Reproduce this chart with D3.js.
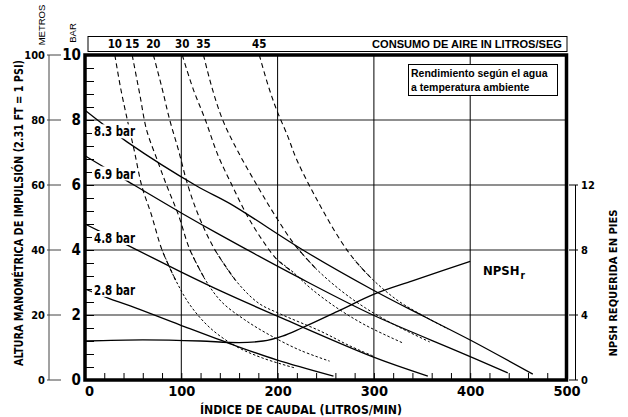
<!DOCTYPE html>
<html>
<head>
<meta charset="utf-8">
<script src="https://cdn.jsdelivr.net/npm/d3@7"></script>
<style>
  body { margin: 0; background: #fff; }
  text { font-family: "Liberation Sans Narrow", "Arial Narrow", "DejaVu Sans Condensed", sans-serif; font-weight: bold; fill: #000; }
  .wide { font-family: "Liberation Sans", Arial, sans-serif; }
</style>
</head>
<body>
<svg width="628" height="417"></svg>
<script>
// axis ticks
var flowTicks = [0, 100, 200, 300, 400, 500];
var barTicks = [0, 2, 4, 6, 8, 10];
var metroTicks = [0, 20, 40, 60, 80, 100];
var npshTicks = [0, 4, 8, 12];

// pressure curves: [flow L/min, head bar]
var pressureNames = ["8.3 bar", "6.9 bar", "4.8 bar", "2.8 bar"];
var p83 = [[0, 8.3], [44, 7.32], [116, 5.97], [151, 5.42], [228, 3.97], [299, 2.77], [351, 1.97], [400, 1.23], [465, 0.18]];
var p69 = [[0, 6.9], [44, 6.12], [100, 5.14], [137, 4.52], [223, 3.14], [299, 2.0], [389, 0.86], [439, 0.22]];
var p48 = [[0, 4.8], [44, 4.15], [100, 3.32], [143, 2.71], [204, 1.91], [299, 0.71], [356, 0.12]];
var p28 = [[0, 2.8], [24, 2.52], [47, 2.28], [99, 1.69], [154, 1.08], [199, 0.62], [258, 0.12]];

// air consumption curves (L/s): [flow L/min, head bar]
var airNames = ["10", "15", "20", "30", "35", "45"];
var a10 = [[31, 10], [37, 8.98], [44, 8.0], [51, 7.08], [59, 5.97], [69, 5.08], [80, 4.0], [94, 3.08], [109, 2.31], [130, 1.6], [156, 1.05], [184, 0.68], [218, 0.37]];
var a15 = [[49, 10], [57, 8.77], [64, 7.69], [75, 6.77], [85, 5.97], [97, 5.08], [109, 4.0], [125, 3.08], [142, 2.4], [166, 1.85], [192, 1.38], [223, 0.92], [254, 0.58]];
var a20 = [[71, 10], [80, 8.98], [88, 8.0], [97, 7.08], [107, 5.97], [119, 4.98], [135, 4.0], [156, 3.08], [180, 2.37], [203, 2.03], [244, 1.51], [275, 1.05], [299, 0.74]];
var a30 = [[101, 10], [112, 8.98], [125, 8.0], [138, 6.92], [153, 5.97], [168, 5.08], [184, 4.31], [200, 3.69], [216, 3.32], [234, 2.83], [260, 2.25], [291, 1.69], [330, 1.14]];
var a35 = [[123, 10], [132, 8.98], [143, 8.0], [159, 7.02], [179, 5.97], [197, 5.08], [218, 4.15], [239, 3.45], [265, 2.77], [291, 2.22], [322, 1.69], [358, 1.17]];
var a45 = [[181, 10], [190, 9.08], [199, 8.31], [210, 7.54], [220, 6.77], [241, 5.54], [265, 4.31], [280, 3.69], [296, 3.17], [312, 2.74], [327, 2.4], [348, 2.03], [377, 1.57]];

// NPSH required: [flow L/min, feet]
var npsh = [[0, 2.4], [60, 2.47], [120, 2.4], [160, 2.3], [185, 2.4], [205, 2.7], [225, 3.2], [265, 4.3], [299, 5.25], [340, 6.1], [372, 6.75], [400, 7.3]];

var svg = d3.select("svg");
svg.append("rect").attr("width", 628).attr("height", 417).attr("fill", "#fff");

var x = d3.scaleLinear().domain([0, 500]).range([85, 566.5]);
var y = d3.scaleLinear().domain([0, 10]).range([380, 55]);
var yM = d3.scaleLinear().domain([0, 100]).range([380, 55]);
var yN = d3.scaleLinear().domain([0, 20]).range([380, 55]);

// grid
var grid = svg.append("g");
grid.selectAll("line.h").data([2, 4, 6, 8]).enter().append("line")
    .attr("x1", x(0)).attr("x2", x(500))
    .attr("y1", function(d) { return y(d); }).attr("y2", function(d) { return y(d); })
    .attr("stroke", "#6a6a6a").attr("stroke-width", 1.4);
grid.selectAll("line.v").data([100, 200, 300, 400]).enter().append("line")
    .attr("x1", function(d) { return x(d); }).attr("x2", function(d) { return x(d); })
    .attr("y1", y(0)).attr("y2", y(10))
    .attr("stroke", "#000").attr("stroke-width", 1);

// minor ticks inside plot
svg.append("g").attr("transform", "translate(0," + y(0) + ")")
    .call(d3.axisTop(x).tickValues(d3.range(0, 501, 20)).tickSize(7).tickFormat(""))
    .call(function(g) { g.select(".domain").remove(); g.selectAll("line").attr("stroke-width", 1); });
svg.append("g").attr("transform", "translate(" + x(0) + ",0)")
    .call(d3.axisRight(y).tickValues(d3.range(0, 26).map(function(i) { return i * 0.4; })).tickSize(9).tickFormat(""))
    .call(function(g) { g.select(".domain").remove(); g.selectAll("line").attr("stroke-width", 1); });

var line = d3.line()
    .x(function(d) { return x(d[0]); })
    .y(function(d) { return y(d[1]); })
    .curve(d3.curveCatmullRom.alpha(0.5));

// air consumption curves: dashed upper part, finer dots lower
var airSeries = [a10, a15, a20, a30, a35, a45];
var split = 3.6;
airSeries.forEach(function(s) {
  var k = s.findIndex(function(d) { return d[1] < split; });
  var upper = s.slice(0, k + 1), lower = s.slice(k - 1);
  svg.append("path").attr("d", line(upper)).attr("fill", "none")
      .attr("stroke", "#000").attr("stroke-width", 1.1).attr("stroke-dasharray", "5,3.5");
  svg.append("path").attr("d", line(lower)).attr("fill", "none")
      .attr("stroke", "#000").attr("stroke-width", 1).attr("stroke-dasharray", "2.5,2")
      .attr("stroke-dashoffset", 1);
});

// pressure curves
var pSeries = [p83, p69, p48, p28];
pSeries.forEach(function(s) {
  svg.append("path").attr("d", line(s)).attr("fill", "none")
      .attr("stroke", "#000").attr("stroke-width", 1.3);
});

// NPSH curve
var npshLine = d3.line()
    .x(function(d) { return x(d[0]); })
    .y(function(d) { return yN(d[1]); })
    .curve(d3.curveMonotoneX);
svg.append("path").attr("d", npshLine(npsh)).attr("fill", "none")
    .attr("stroke", "#000").attr("stroke-width", 1.3);

// pressure labels with white backing
var labelShift = [0, 1, 0, -10];
pSeries.forEach(function(s, i) {
  var lx = 94;
  var q = x.invert(113);
  var j = d3.bisector(function(d) { return d[0]; }).left(s, q);
  var a = s[j - 1], b = s[j];
  var v = a[1] + (b[1] - a[1]) * (q - a[0]) / (b[0] - a[0]);
  var ly = y(v) + labelShift[i];
  var g = svg.append("g");
  var t = g.append("text").attr("x", lx).attr("y", ly).attr("dy", "0.36em")
      .attr("font-size", 14).attr("textLength", 41).attr("lengthAdjust", "spacingAndGlyphs")
      .text(pressureNames[i]);
  var bb = t.node().getBBox();
  g.insert("rect", "text").attr("x", bb.x - 2).attr("y", bb.y + 1)
      .attr("width", bb.width + 3).attr("height", bb.height - 2).attr("fill", "#fff");
});

// frame
svg.append("rect").attr("x", x(0)).attr("y", y(10))
    .attr("width", x(500) - x(0)).attr("height", y(0) - y(10))
    .attr("fill", "none").attr("stroke", "#000").attr("stroke-width", 3.5);

// left metres axis
var lm = svg.append("g");
lm.append("line").attr("x1", 49).attr("x2", 49).attr("y1", yM(0)).attr("y2", yM(100))
    .attr("stroke", "#444").attr("stroke-width", 1);
lm.selectAll("line.t").data(metroTicks).enter().append("line")
    .attr("x1", 47).attr("x2", 61)
    .attr("y1", function(d) { return yM(d); }).attr("y2", function(d) { return yM(d); })
    .attr("stroke", "#444").attr("stroke-width", 1);
lm.selectAll("text").data(metroTicks).enter().append("text")
    .attr("x", 45).attr("y", function(d) { return yM(d); }).attr("dy", "0.36em")
    .attr("text-anchor", "end").attr("font-size", 11).text(function(d) { return d; });
svg.selectAll("text.bar").data(barTicks).enter().append("text")
    .attr("x", 81).attr("y", function(d) { return y(d); }).attr("dy", "0.36em")
    .attr("text-anchor", "end").attr("font-size", 15).text(function(d) { return d; });

svg.append("text").attr("class", "wide").attr("transform", "translate(45,25) rotate(-90)")
    .attr("text-anchor", "middle").attr("font-size", 9.5).style("font-weight", "normal")
    .attr("fill", "#222").text("METROS");
svg.append("text").attr("class", "wide").attr("transform", "translate(76,33) rotate(-90)")
    .attr("text-anchor", "middle").attr("font-size", 9.5).style("font-weight", "normal")
    .attr("fill", "#222").text("BAR");

svg.append("text").attr("transform", "translate(23,213) rotate(-90)")
    .attr("text-anchor", "middle").attr("font-size", 11.5)
    .attr("textLength", 306).attr("lengthAdjust", "spacingAndGlyphs")
    .text("ALTURA MANOMÉTRICA DE IMPULSIÓN (2.31 FT = 1 PSI)");

// bottom axis labels
svg.append("g").attr("transform", "translate(0," + y(0) + ")")
    .call(d3.axisBottom(x).tickValues(flowTicks).tickSize(0).tickPadding(6).tickFormat(d3.format("d")))
    .call(function(g) {
      g.select(".domain").remove();
      g.selectAll("text").attr("font-size", 14.5).attr("font-family", null).attr("fill", "#000")
          .attr("dx", function(d) { return d === 0 ? 4 : 0; });
    });
svg.append("text").attr("x", 301).attr("y", 414).attr("text-anchor", "middle")
    .attr("font-size", 13).attr("textLength", 202).attr("lengthAdjust", "spacingAndGlyphs")
    .text("ÍNDICE DE CAUDAL (LITROS/MIN)");

// right NPSH axis
var rn = svg.append("g");
rn.append("line").attr("x1", 575.5).attr("x2", 575.5).attr("y1", yN(0)).attr("y2", yN(12))
    .attr("stroke", "#000").attr("stroke-width", 1);
rn.selectAll("line.t").data(npshTicks).enter().append("line")
    .attr("x1", 569).attr("x2", 578)
    .attr("y1", function(d) { return yN(d); }).attr("y2", function(d) { return yN(d); })
    .attr("stroke", "#000").attr("stroke-width", 1);
rn.selectAll("text").data(npshTicks).enter().append("text")
    .attr("x", 581).attr("y", function(d) { return yN(d); }).attr("dy", "0.36em")
    .attr("font-size", 11).text(function(d) { return d; });
svg.append("text").attr("transform", "translate(617,283) rotate(-90)")
    .attr("text-anchor", "middle").attr("font-size", 11)
    .attr("textLength", 147).attr("lengthAdjust", "spacingAndGlyphs")
    .text("NPSH REQUERIDA EN PIES");

// NPSHr label (one text, subscript as tspan)
var np = svg.append("text").attr("x", 483).attr("y", 275).attr("font-size", 13);
np.append("tspan").text("NPSH");
np.append("tspan").attr("dx", 1).attr("dy", 4).attr("font-size", 10).text("r");

// top air consumption box
svg.append("rect").attr("x", 88).attr("y", 36.5).attr("width", 479).attr("height", 15)
    .attr("fill", "none").attr("stroke", "#000").attr("stroke-width", 1);
svg.selectAll("text.air").data(airSeries).enter().append("text")
    .attr("x", function(d) { return x(d[0][0]); }).attr("y", 48)
    .attr("text-anchor", "middle").attr("font-size", 11.5)
    .text(function(d, i) { return airNames[i]; });
svg.append("text").attr("class", "wide").attr("x", 562).attr("y", 48)
    .attr("text-anchor", "end").attr("font-size", 11)
    .attr("textLength", 190).attr("lengthAdjust", "spacingAndGlyphs")
    .text("CONSUMO DE AIRE IN LITROS/SEG");

// note box
svg.append("rect").attr("x", 408.5).attr("y", 64.5).attr("width", 149).attr("height", 31)
    .attr("fill", "#fff").attr("stroke", "#000").attr("stroke-width", 1);
svg.append("text").attr("class", "wide").attr("x", 411).attr("y", 77)
    .attr("font-size", 10.5).text("Rendimiento según el agua");
svg.append("text").attr("class", "wide").attr("x", 411).attr("y", 91)
    .attr("font-size", 10.5).text("a temperatura ambiente");
</script>
</body>
</html>
